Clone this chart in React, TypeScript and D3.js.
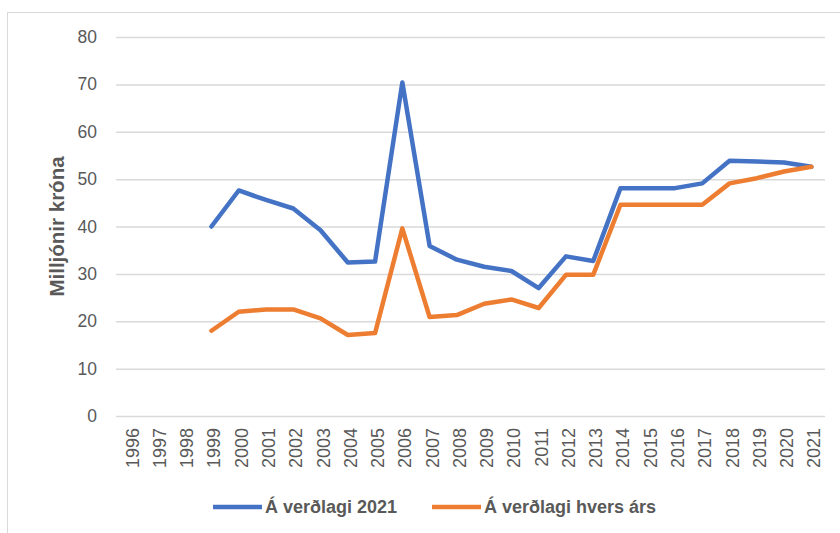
import React, { useEffect, useRef } from "react";
import * as d3 from "d3";

const years = d3.range(1996, 2022).map(String);
// null = no data
const fixedPrices = [
  null, null, null, 40.0, 47.6, 45.6, 43.8, 39.2, 32.4, 32.6, 70.4, 35.9, 33.0,
  31.5, 30.6, 27.0, 33.7, 32.7, 48.1, 48.1, 48.1, 49.1, 53.9, 53.7, 53.5, 52.6,
];
const currentPrices = [
  null, null, null, 18.0, 22.0, 22.5, 22.5, 20.6, 17.1, 17.5, 39.6, 20.9, 21.3,
  23.7, 24.6, 22.8, 29.8, 29.8, 44.6, 44.6, 44.6, 44.6, 49.1, 50.2, 51.6, 52.6,
];
const seriesNames = ["Á verðlagi 2021", "Á verðlagi hvers árs"];
const colors = ["#4472c4", "#ed7d31"];
const yTicks = [0, 10, 20, 30, 40, 50, 60, 70, 80];

const App = () => {
  const ref = useRef<SVGSVGElement>(null);

  useEffect(() => {
    const width = 840;
    const height = 533;
    const margin = { top: 37, right: 15, bottom: 117, left: 116 };
    const font = "'Liberation Sans', Arial, sans-serif";
    const textColor = "#595959";

    const svg = d3.select(ref.current).attr("width", width).attr("height", height);
    svg.selectAll("*").remove();

    // outer chart border
    svg
      .append("rect")
      .attr("x", 7.5)
      .attr("y", 12.5)
      .attr("width", 900)
      .attr("height", 600)
      .attr("fill", "white")
      .attr("stroke", "#d9d9d9");

    const x = d3
      .scaleBand()
      .domain(years)
      .range([margin.left, width - margin.right]);
    const y = d3
      .scaleLinear()
      .domain([0, 80])
      .range([height - margin.bottom, margin.top]);

    // y axis with gridlines
    const yAxis = d3
      .axisLeft(y)
      .tickValues(yTicks)
      .tickSize(-(width - margin.right - margin.left))
      .tickPadding(19);
    svg
      .append("g")
      .attr("transform", `translate(${margin.left},0)`)
      .call(yAxis)
      .call((g) => g.select(".domain").remove())
      .call((g) => g.selectAll(".tick line").attr("stroke", "#d9d9d9").attr("stroke-width", 1.5))
      .call((g) =>
        g
          .selectAll(".tick text")
          .attr("fill", textColor)
          .attr("font-family", font)
          .attr("font-size", 17.5)
      );

    // x axis, rotated labels
    const xAxis = d3.axisBottom(x).tickSize(0).tickPadding(0);
    svg
      .append("g")
      .attr("transform", `translate(0,${height - margin.bottom})`)
      .call(xAxis)
      .call((g) => g.select(".domain").remove())
      .call((g) =>
        g
          .selectAll(".tick text")
          .attr("fill", textColor)
          .attr("font-family", font)
          .attr("font-size", 18)
          .attr("transform", "rotate(-90)")
          .attr("text-anchor", "end")
          .attr("dy", "0.5em")
          .attr("x", -12)
          .attr("y", 0)
      );

    // y axis title
    svg
      .append("text")
      .attr("transform", `translate(64,${(margin.top + height - margin.bottom) / 2}) rotate(-90)`)
      .attr("text-anchor", "middle")
      .attr("fill", textColor)
      .attr("font-family", font)
      .attr("font-weight", "bold")
      .attr("font-size", 20.5)
      .text("Milljónir króna");

    const line = d3
      .line<number | null>()
      .defined((d) => d !== null)
      .x((d, i) => (x(years[i]) as number) + x.bandwidth() / 2)
      .y((d) => y(d as number));

    [fixedPrices, currentPrices].forEach((s, i) => {
      svg
        .append("path")
        .datum(s)
        .attr("fill", "none")
        .attr("stroke", colors[i])
        .attr("stroke-width", 4.5)
        .attr("stroke-linejoin", "round")
        .attr("stroke-linecap", "round")
        .attr("d", line);
    });

    // legend
    const legendX = [213, 432];
    const legend = svg
      .selectAll(".legend")
      .data(seriesNames)
      .join("g")
      .attr("class", "legend")
      .attr("transform", (d, i) => `translate(${legendX[i]},507)`);
    legend
      .append("line")
      .attr("x1", 0)
      .attr("x2", 49)
      .attr("stroke", (d, i) => colors[i])
      .attr("stroke-width", 4.5);
    legend
      .append("text")
      .attr("x", 52)
      .attr("dy", "0.35em")
      .attr("fill", textColor)
      .attr("font-family", font)
      .attr("font-weight", "bold")
      .attr("font-size", 18)
      .text((d) => d);
  }, []);

  return (
    <div style={{ position: "absolute", left: 0, top: 0 }}>
      <svg ref={ref}></svg>
    </div>
  );
};

export default App;
